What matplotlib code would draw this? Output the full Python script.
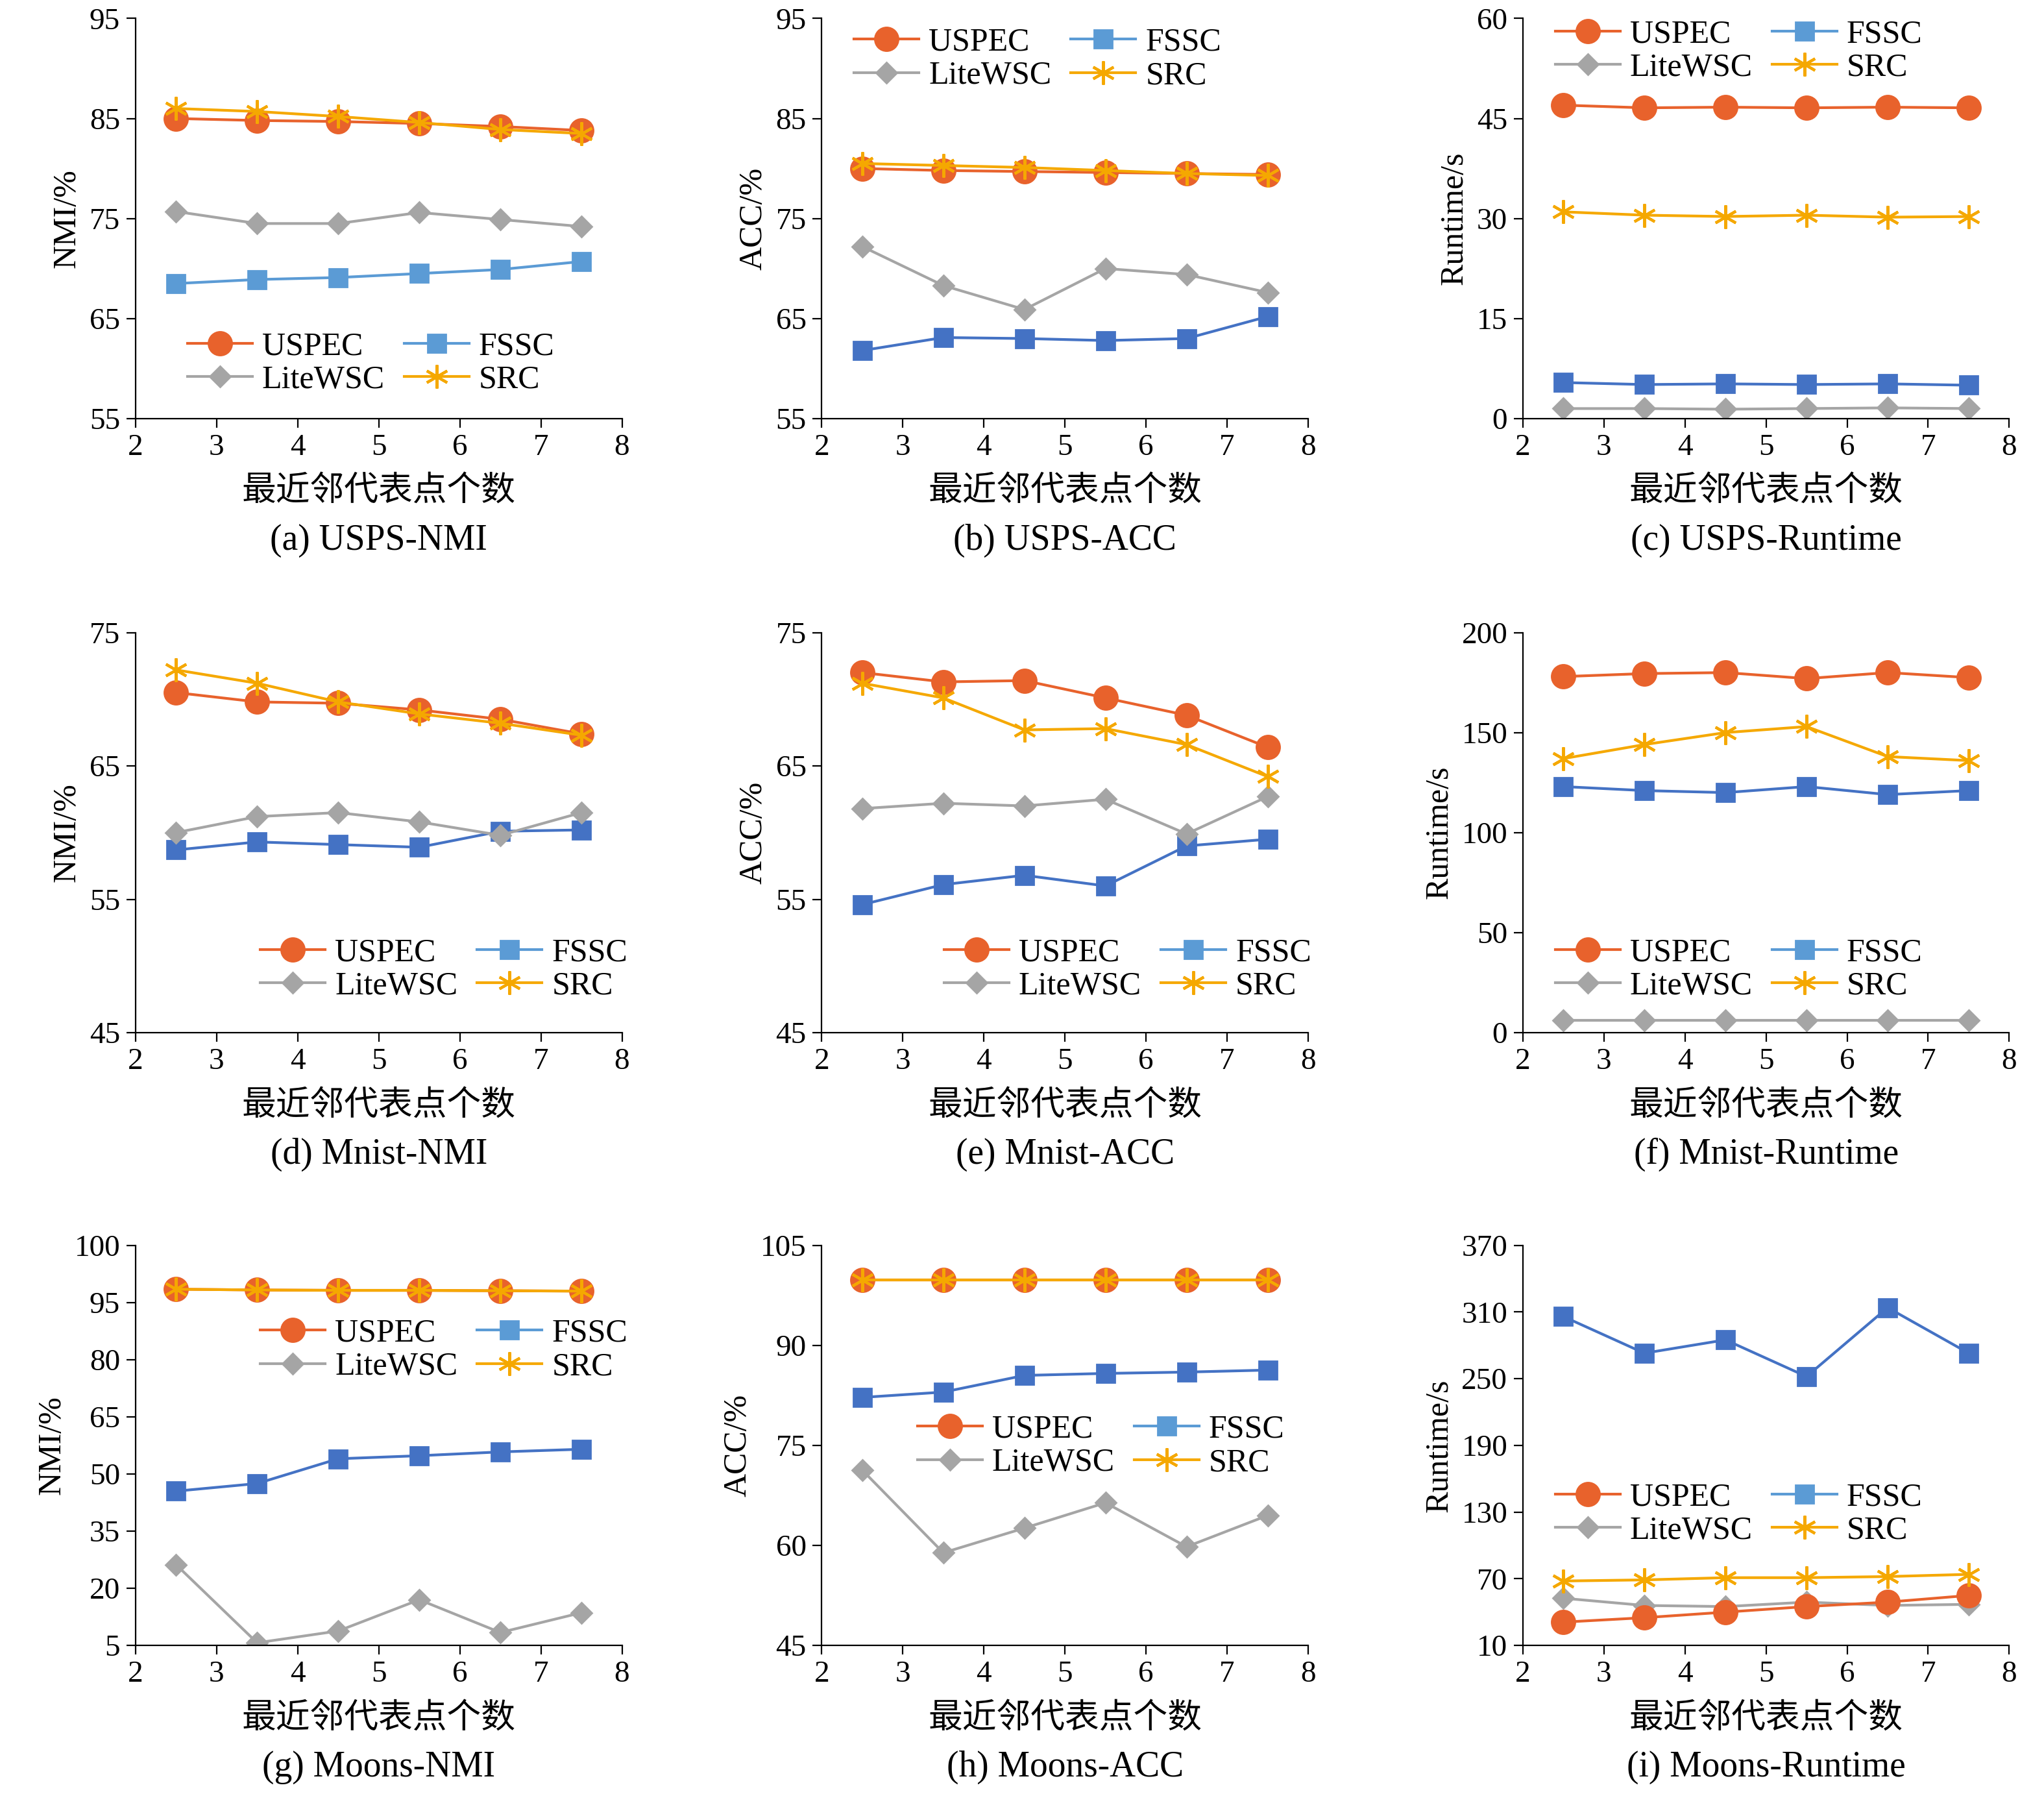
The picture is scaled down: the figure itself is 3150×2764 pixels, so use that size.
import matplotlib
matplotlib.use("Agg")
import matplotlib.pyplot as plt
import matplotlib.lines as mlines

plt.rcParams['font.family'] = ['Liberation Serif', 'Noto Sans CJK SC']

x = [2.5, 3.5, 4.5, 5.5, 6.5, 7.5]
xlabel = "最近邻代表点个数"
captions = ["(a) USPS-NMI", "(b) USPS-ACC", "(c) USPS-Runtime",
            "(d) Mnist-NMI", "(e) Mnist-ACC", "(f) Mnist-Runtime",
            "(g) Moons-NMI", "(h) Moons-ACC", "(i) Moons-Runtime"]
ylabels = ["NMI/%", "ACC/%", "Runtime/s"] * 3

uspec = [[85, 84.8, 84.7, 84.5, 84.2, 83.8],
         [80, 79.8, 79.7, 79.6, 79.5, 79.4],
         [47, 46.6, 46.7, 46.6, 46.7, 46.6],
         [70.5, 69.8, 69.7, 69.2, 68.5, 67.4],
         [72, 71.3, 71.4, 70.1, 68.8, 66.4],
         [178, 179.5, 180, 177, 180, 177.5],
         [98.5, 98.3, 98.2, 98.2, 98.1, 98.0],
         [99.8, 99.8, 99.8, 99.8, 99.8, 99.8],
         [31, 35, 40, 45, 49, 55]]
src = [[86, 85.7, 85.2, 84.6, 83.9, 83.5],
       [80.5, 80.3, 80.1, 79.8, 79.5, 79.3],
       [31, 30.5, 30.3, 30.5, 30.2, 30.3],
       [72.2, 71.2, 69.8, 68.9, 68.2, 67.3],
       [71.2, 70.1, 67.7, 67.8, 66.6, 64.2],
       [137, 144, 150, 153, 138, 136],
       [98.5, 98.3, 98.2, 98.2, 98.1, 98.0],
       [99.8, 99.8, 99.8, 99.8, 99.8, 99.8],
       [68, 69, 71, 71, 72, 74]]
litewsc = [[75.7, 74.5, 74.5, 75.6, 74.9, 74.2],
           [72.2, 68.3, 65.9, 70, 69.4, 67.6],
           [1.5, 1.5, 1.4, 1.5, 1.6, 1.5],
           [60, 61.2, 61.5, 60.8, 59.8, 61.5],
           [61.8, 62.2, 62, 62.5, 59.9, 62.7],
           [6, 6, 6, 6, 6, 6],
           [26.2, 5.7, 8.8, 17, 8.4, 13.6],
           [71.3, 58.9, 62.6, 66.4, 59.8, 64.5],
           [52.5, 46, 45, 49, 46, 47]]
fssc = [[68.5, 68.9, 69.1, 69.5, 69.9, 70.7],
        [61.8, 63.1, 63, 62.8, 63, 65.2],
        [5.4, 5.1, 5.2, 5.1, 5.2, 5],
        [58.7, 59.3, 59.1, 58.9, 60.1, 60.2],
        [54.6, 56.1, 56.8, 56, 59, 59.5],
        [123, 121, 120, 123, 119, 121],
        [45.5, 47.5, 54, 54.8, 55.8, 56.5],
        [82.2, 83, 85.5, 85.8, 86, 86.3],
        [306, 273, 285, 252, 314, 273]]

yticks = [[55, 65, 75, 85, 95], [55, 65, 75, 85, 95], [0, 15, 30, 45, 60],
          [45, 55, 65, 75], [45, 55, 65, 75], [0, 50, 100, 150, 200],
          [5, 20, 35, 50, 65, 80, 95, 110], [45, 60, 75, 90, 105],
          [10, 70, 130, 190, 250, 310, 370]]
yticklabels_g = ["5", "20", "35", "50", "65", "80", "95", "100"]
legend_pos = [(0.08, 0.25), (0.04, 1.01), (0.04, 1.03), (0.23, 0.27), (0.225, 0.27),
              (0.04, 0.27), (0.23, 0.85), (0.17, 0.61), (0.04, 0.44)]

C_USPEC = '#e8622c'
C_LITE = '#a5a5a5'
C_FSSC = '#4472c4'
C_FSSC_A = '#5b9bd5'
C_SRC = '#f5a800'

fig = plt.figure(figsize=(15.75, 13.82), dpi=200)
lefts = [0.0663, 0.402, 0.745]
bottoms = [0.7667, 0.4244, 0.0828]
for i in range(9):
    r, c = divmod(i, 3)
    ax = fig.add_axes([lefts[c], bottoms[r], 0.238, 0.223])
    fc = C_FSSC_A if i == 0 else C_FSSC
    ax.plot(x, fssc[i], color=fc, marker='s', ms=10, lw=1.5)
    ax.plot(x, litewsc[i], color=C_LITE, marker='D', ms=8, lw=1.5)
    ax.plot(x, uspec[i], color=C_USPEC, marker='o', ms=13, lw=1.5)
    ax.plot(x, src[i], color=C_SRC, marker=(6, 2, 0), ms=13, mew=1.5, lw=1.5)
    ax.set_xlim(2, 8)
    ax.set_xticks(range(2, 9))
    yt = yticks[i]
    ax.set_ylim(yt[0], yt[-1])
    ax.set_yticks(yt)
    if i == 6:
        ax.set_yticklabels(yticklabels_g)
    for s in ['top', 'right']:
        ax.spines[s].set_visible(False)
    ax.tick_params(labelsize=17, direction='out', length=5)
    ax.set_xlabel(xlabel, fontsize=19, labelpad=8)
    ax.set_ylabel(ylabels[i], fontsize=18, labelpad=4)
    ax.text(0.5, -0.305, captions[i], transform=ax.transAxes, ha='center', va='center', fontsize=20)
    hu = mlines.Line2D([], [], color=C_USPEC, marker='o', ms=13, lw=1.5)
    hl = mlines.Line2D([], [], color=C_LITE, marker='D', ms=8, lw=1.5)
    hf = mlines.Line2D([], [], color=C_FSSC_A, marker='s', ms=10, lw=1.5)
    hs = mlines.Line2D([], [], color=C_SRC, marker=(6, 2, 0), ms=13, mew=1.5, lw=1.5)
    ax.legend([hu, hl, hf, hs], ['USPEC', 'LiteWSC', 'FSSC', 'SRC'], ncol=2,
              loc='upper left', bbox_to_anchor=legend_pos[i], borderaxespad=0,
              frameon=False, fontsize=18, handlelength=2.0, columnspacing=0.6,
              labelspacing=0.1, handletextpad=0.3)

fig.savefig("out.png", dpi=200)
